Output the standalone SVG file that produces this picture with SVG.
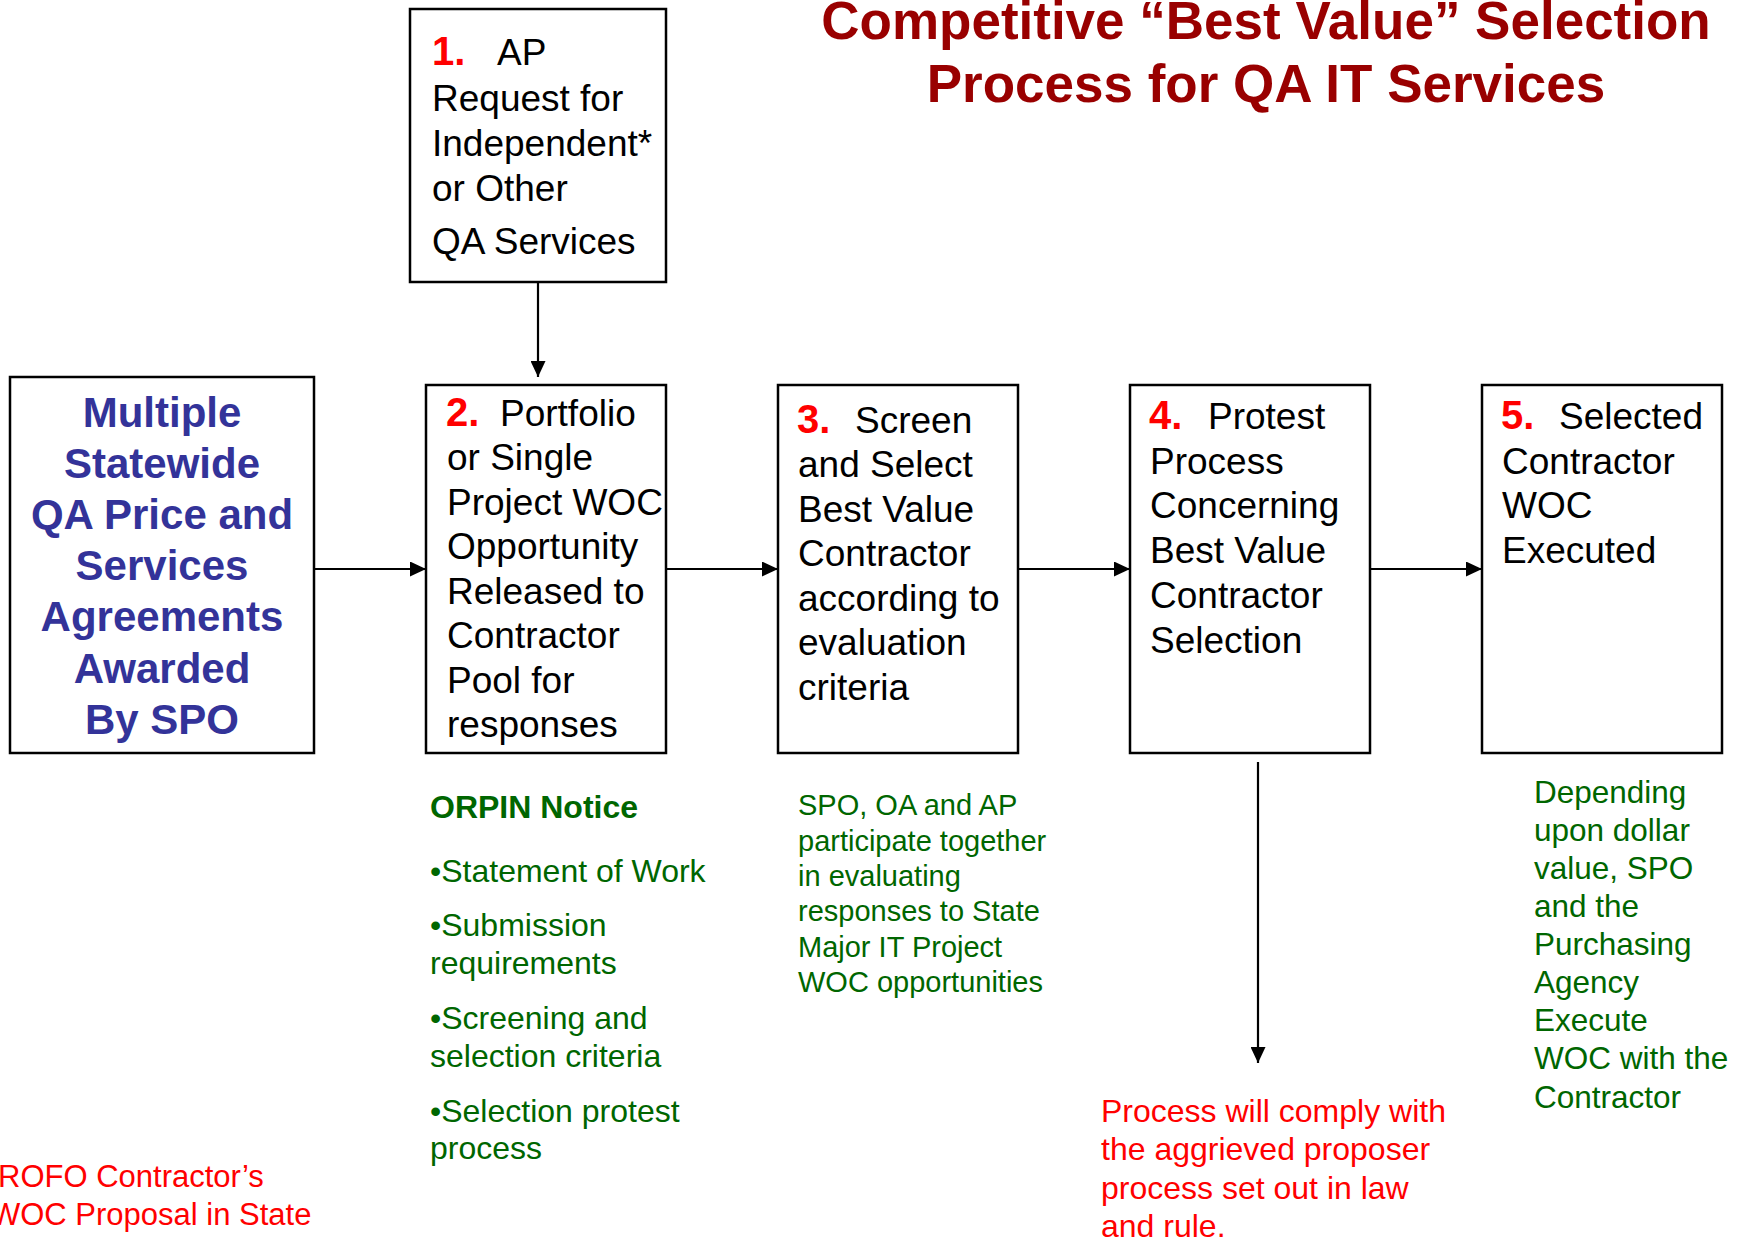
<svg xmlns="http://www.w3.org/2000/svg" width="1746" height="1240" viewBox="0 0 1746 1240">
<defs>
<style>
text{font-family:"Liberation Sans",Arial,sans-serif}
.box{fill:#fff;stroke:#000;stroke-width:2.5}
.con{stroke:#000;stroke-width:2.2;fill:none;marker-end:url(#ah)}
.title{font-size:53px;font-weight:bold;fill:#990000;text-anchor:middle}
.bt{font-size:37px;fill:#000}
.num{font-size:40px;font-weight:bold;fill:#ff0000}
.blue{font-size:42px;font-weight:bold;fill:#333399;text-anchor:middle}
.g32{font-size:32px;fill:#006600}
.g29{font-size:29px;fill:#006600}
.g31{font-size:31.5px;fill:#006600}
.red{font-size:32px;fill:#ff0000}
.red31{font-size:31px;fill:#ff0000}
</style>
<marker id="ah" markerUnits="userSpaceOnUse" markerWidth="16" markerHeight="15" refX="16" refY="7.5" orient="auto">
<path d="M0,0 L16,7.5 L0,15 z" fill="#000"/>
</marker>
</defs>
<rect width="1746" height="1240" fill="#fff"/>

<g id="title">
<text class="title" x="1266" y="39">Competitive “Best Value” Selection</text>
<text class="title" x="1266" y="102">Process for QA IT Services</text>
</g>

<g id="connectors">
<path class="con" d="M538,282 L538,377"/>
<path class="con" d="M314,569 L426,569"/>
<path class="con" d="M666,569 L778,569"/>
<path class="con" d="M1018,569 L1130,569"/>
<path class="con" d="M1370,569 L1482,569"/>
<path class="con" d="M1258,762 L1258,1063"/>
</g>

<g id="node-multiple">
<rect class="box" x="10" y="377" width="304" height="376"/>
<text class="blue" x="162" y="427">Multiple</text>
<text class="blue" x="162" y="478">Statewide</text>
<text class="blue" x="162" y="529">QA Price and</text>
<text class="blue" x="162" y="580">Services</text>
<text class="blue" x="162" y="631">Agreements</text>
<text class="blue" x="162" y="683">Awarded</text>
<text class="blue" x="162" y="734">By SPO</text>
</g>

<g id="node-1">
<rect class="box" x="410" y="9" width="256" height="273"/>
<text class="num" x="432" y="65">1.</text>
<text class="bt" x="497" y="65">AP</text>
<text class="bt" x="432" y="111">Request for</text>
<text class="bt" x="432" y="156">Independent*</text>
<text class="bt" x="432" y="201">or Other</text>
<text class="bt" x="432" y="254">QA Services</text>
</g>

<g id="node-2">
<rect class="box" x="426" y="385" width="240" height="368"/>
<text class="num" x="446" y="426">2.</text>
<text class="bt" x="500" y="426">Portfolio</text>
<text class="bt" x="447" y="470">or Single</text>
<text class="bt" x="447" y="515">Project WOC</text>
<text class="bt" x="447" y="559">Opportunity</text>
<text class="bt" x="447" y="604">Released to</text>
<text class="bt" x="447" y="648">Contractor</text>
<text class="bt" x="447" y="693">Pool for</text>
<text class="bt" x="447" y="737">responses</text>
</g>

<g id="node-3">
<rect class="box" x="778" y="385" width="240" height="368"/>
<text class="num" x="797" y="433">3.</text>
<text class="bt" x="855" y="433">Screen</text>
<text class="bt" x="798" y="477">and Select</text>
<text class="bt" x="798" y="522">Best Value</text>
<text class="bt" x="798" y="566">Contractor</text>
<text class="bt" x="798" y="611">according to</text>
<text class="bt" x="798" y="655">evaluation</text>
<text class="bt" x="798" y="700">criteria</text>
</g>

<g id="node-4">
<rect class="box" x="1130" y="385" width="240" height="368"/>
<text class="num" x="1149" y="429">4.</text>
<text class="bt" x="1208" y="429">Protest</text>
<text class="bt" x="1150" y="474">Process</text>
<text class="bt" x="1150" y="518">Concerning</text>
<text class="bt" x="1150" y="563">Best Value</text>
<text class="bt" x="1150" y="608">Contractor</text>
<text class="bt" x="1150" y="653">Selection</text>
</g>

<g id="node-5">
<rect class="box" x="1482" y="385" width="240" height="368"/>
<text class="num" x="1501" y="429">5.</text>
<text class="bt" x="1559" y="429">Selected</text>
<text class="bt" x="1502" y="474">Contractor</text>
<text class="bt" x="1502" y="518">WOC</text>
<text class="bt" x="1502" y="563">Executed</text>
</g>

<g id="note-orpin">
<text class="g32" x="430" y="818" font-weight="bold">ORPIN Notice</text>
<text class="g32" x="430" y="882">•Statement of Work</text>
<text class="g32" x="430" y="936">•Submission</text>
<text class="g32" x="430" y="974">requirements</text>
<text class="g32" x="430" y="1029">•Screening and</text>
<text class="g32" x="430" y="1067">selection criteria</text>
<text class="g32" x="430" y="1122">•Selection protest</text>
<text class="g32" x="430" y="1159">process</text>
</g>

<g id="note-evaluate">
<text class="g29" x="798" y="815">SPO, OA and AP</text>
<text class="g29" x="798" y="851">participate together</text>
<text class="g29" x="798" y="886">in evaluating</text>
<text class="g29" x="798" y="921">responses to State</text>
<text class="g29" x="798" y="957">Major IT Project</text>
<text class="g29" x="798" y="992">WOC opportunities</text>
</g>

<g id="note-execute">
<text class="g31" x="1534" y="803">Depending</text>
<text class="g31" x="1534" y="841">upon dollar</text>
<text class="g31" x="1534" y="879">value, SPO</text>
<text class="g31" x="1534" y="917">and the</text>
<text class="g31" x="1534" y="955">Purchasing</text>
<text class="g31" x="1534" y="993">Agency</text>
<text class="g31" x="1534" y="1031">Execute</text>
<text class="g31" x="1534" y="1069">WOC with the</text>
<text class="g31" x="1534" y="1108">Contractor</text>
</g>

<g id="note-protest">
<text class="red" x="1101" y="1122">Process will comply with</text>
<text class="red" x="1101" y="1160">the aggrieved proposer</text>
<text class="red" x="1101" y="1199">process set out in law</text>
<text class="red" x="1101" y="1237">and rule.</text>
</g>

<g id="note-rofo">
<text class="red31" x="-2" y="1187">ROFO Contractor’s</text>
<text class="red31" x="-9" y="1225">WOC Proposal in State</text>
</g>
</svg>
